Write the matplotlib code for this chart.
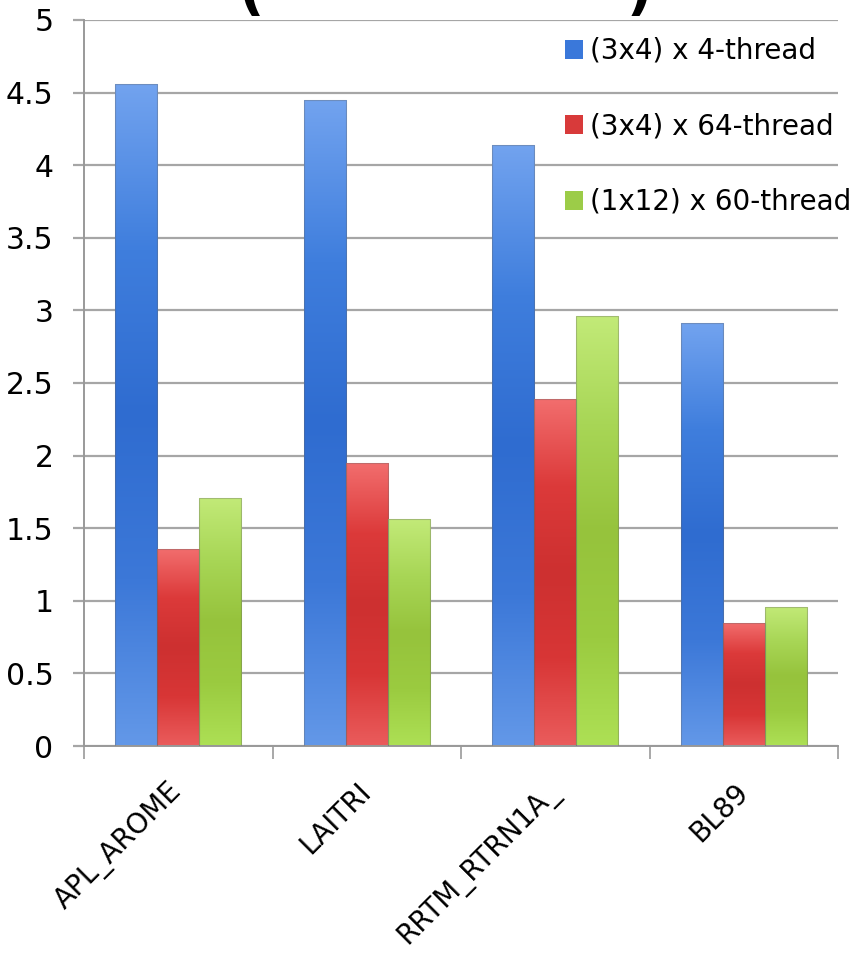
import matplotlib
matplotlib.use("Agg")
import matplotlib.pyplot as plt
import numpy as np
from matplotlib.colors import LinearSegmentedColormap
from matplotlib.patches import Patch

# Kernels and timings for each threading layout
kernels = ["APL_AROME", "LAITRI", "RRTM_RTRN1A_", "BL89"]
series_names = ["(3x4) x 4-thread", "(3x4) x 64-thread", "(1x12) x 60-thread"]
t_3x4_4 = [4.56, 4.45, 4.14, 2.91]
t_3x4_64 = [1.36, 1.95, 2.39, 0.85]
t_1x12_60 = [1.71, 1.56, 2.96, 0.96]
yticks = [0, 0.5, 1, 1.5, 2, 2.5, 3, 3.5, 4, 4.5, 5]

# gradient stops (top -> bottom) and flat legend colour per series
gradients = [
    ["#72a3ef", "#3f7edd", "#2f6cd0", "#3c78d8", "#6398e8"],
    ["#f26e6e", "#dc3a3a", "#cd3030", "#d83636", "#ea5c5c"],
    ["#c2ea78", "#a8d656", "#96c33c", "#9bcb40", "#ade055"],
]
flat = ["#3a78da", "#d83a3a", "#9ccc48"]

plt.rcParams["font.family"] = ["DejaVu Sans"]

fig = plt.figure(figsize=(8.6, 9.55), dpi=100)
ax = fig.add_axes([84 / 860, 1 - 746 / 955, (838 - 84) / 860, (746 - 20) / 955])

x = np.arange(len(kernels))
width = 0.223
data = [t_3x4_4, t_3x4_64, t_1x12_60]
grad = np.linspace(0, 1, 256).reshape(-1, 1)

for i, vals in enumerate(data):
    cmap = LinearSegmentedColormap.from_list(f"g{i}", gradients[i])
    bars = ax.bar(x + (i - 1) * width, vals, width, color="none",
                  edgecolor=(0.4, 0.4, 0.4, 0.35), linewidth=0.8, zorder=3)
    for b in bars:
        x0, y0 = b.get_x(), b.get_y()
        w, h = b.get_width(), b.get_height()
        im = ax.imshow(grad, extent=[x0, x0 + w, y0, y0 + h], origin="upper",
                       aspect="auto", cmap=cmap, zorder=2, interpolation="bilinear")
        im.set_clip_path(b)

ax.set_xlim(-0.5, len(kernels) - 0.5)
ax.set_ylim(0, 5)
ax.set_yticks(yticks)
ax.set_yticklabels([f"{v:g}" for v in yticks], fontsize=21.5)
ax.yaxis.grid(True, color="#a6a6a6", linewidth=1.6, zorder=0)
ax.set_axisbelow(True)

# category boundaries get tick marks, labels sit in between
ax.set_xticks(x)
ax.set_xticklabels(kernels, rotation=45, ha="right", va="center",
                   rotation_mode="anchor", fontsize=20)
ax.tick_params(axis="x", which="major", length=0, pad=30)
ax.set_xticks(np.arange(len(kernels) + 1) - 0.5, minor=True)
ax.tick_params(axis="x", which="minor", length=9, width=1.2, color="#999999")
ax.tick_params(axis="y", length=8, width=1.6, color="#a6a6a6", pad=14)

for side in ["top", "right"]:
    ax.spines[side].set_visible(False)
for side in ["left", "bottom"]:
    ax.spines[side].set_color("#999999")
    ax.spines[side].set_linewidth(1.4)

handles = [Patch(facecolor=c, edgecolor="none") for c in flat]
ax.legend(handles, series_names, loc="upper left",
          bbox_to_anchor=((565 - 84) / 754, 1 - 17 / 726),
          frameon=False, fontsize=20, handlelength=0.65, handleheight=0.65,
          handletextpad=0.25, labelspacing=1.71, borderaxespad=0, borderpad=0)

# heading sits above the visible area, only its lower edge shows
fig.text(238 / 860, 1 - 9 / 955, "(", fontsize=40, fontweight="bold", va="baseline")
fig.text(627 / 860, 1 - 9 / 955, ")", fontsize=40, fontweight="bold", va="baseline")

fig.savefig("out.png", dpi=100)
